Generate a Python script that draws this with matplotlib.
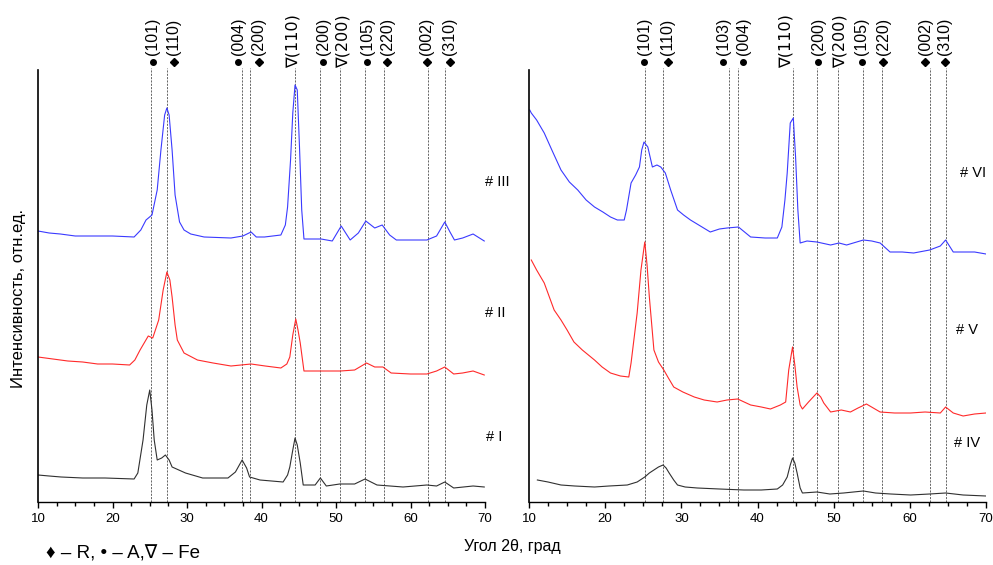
import matplotlib
matplotlib.use("Agg")
import matplotlib.pyplot as plt
from matplotlib.ticker import MultipleLocator

plt.rcParams['font.family'] = ['Liberation Sans', 'DejaVu Sans']

# ---- data (intensity in arbitrary units) ----
ang_III = [10.0, 11.5, 13, 15, 18, 20, 22.9, 23.8, 24.5, 25.3, 26.0, 26.5, 27.0, 27.3, 27.6, 28.0, 28.4,
           29.0, 29.6, 30.5, 32.3, 35.9, 37.5, 38.6, 39.3, 40.4, 42.6, 43.2, 43.5, 43.9, 44.2, 44.5, 44.8,
           45.1, 45.4, 45.7, 48.0, 49.5, 50.7, 51.9, 53.0, 54.0, 55.2, 56.2, 57.2, 58.1, 62.2, 63.5, 64.6,
           65.3, 65.9, 67.0, 68.4, 69.9]
int_III = [271, 269, 268, 266, 266, 266, 265, 272, 282, 287, 312, 352, 387, 394, 387, 352, 307,
           280, 272, 268, 265, 264, 266, 270, 265, 265, 267, 277, 295, 342, 389, 417, 412,
           355, 292, 263, 263, 261, 276, 262, 269, 281, 274, 277, 267, 262, 262, 266, 280,
           270, 262, 264, 268, 261]

ang_II = [10.0, 12, 14, 16, 18, 20, 22.3, 23.0, 23.7, 24.8, 25.4, 26.2, 26.8, 27.3, 27.7, 28.0, 28.4,
          28.7, 29.6, 31.4, 33.5, 35.9, 38.6, 40.5, 42.6, 43.4, 43.8, 44.2, 44.6, 44.9, 45.2, 45.7, 48,
          50.6, 52.5, 54.1, 55.2, 56.3, 57.4, 60, 62.2, 63.5, 64.6, 65.8, 67, 68.4, 69.9]
int_II = [145, 143, 141, 140, 138, 138, 137, 142, 152, 166, 164, 182, 212, 230, 222, 205, 177,
          162, 149, 142, 139, 136, 138, 136, 134, 138, 145, 167, 183, 172, 159, 131, 131,
          131, 132, 139, 135, 135, 129, 128, 128, 131, 135, 128, 129, 131, 127]

ang_I = [10.0, 11.5, 13.1, 16, 19, 22.9, 23.4, 24.1, 24.6, 25.0, 25.3, 25.6, 26.0, 26.6, 27.1, 27.6,
         28.0, 29.8, 32.1, 35.5, 36.5, 37.4, 38.0, 38.4, 39.8, 42.9, 43.5, 43.8, 44.2, 44.5, 44.8, 45.2,
         45.6, 47.2, 47.9, 48.7, 50.5, 52.5, 53.9, 55.5, 59.0, 62.2, 63.5, 64.6, 65.8, 68.4, 69.9]
int_I = [27, 26, 25, 24, 24, 23, 29, 62, 97, 112, 92, 62, 42, 44, 47, 42,
         35, 29, 24, 24, 30, 42, 34, 25, 22, 20, 27, 35, 52, 64, 57, 39,
         17, 17, 24, 16, 18, 18, 23, 17, 15, 17, 16, 20, 14, 16, 15]

ang_VI = [10.1, 10.3, 11, 12.0, 13, 14.2, 15.3, 16.4, 17.5, 18.6, 19.7, 20.7, 21.6, 22.5, 22.8, 23.4,
          24.0, 24.5, 24.8, 25.1, 25.6, 26.2, 26.8, 27.3, 27.9, 28.6, 29.5, 30.3, 31.2, 32.5, 33.8, 35.0,
          36.0, 37.5, 38.3, 39.1, 41, 42.6, 43.2, 43.6, 43.9, 44.3, 44.7, 45.0, 45.3, 45.6, 46.5, 47.8,
          49.6, 50.7, 51.7, 53.9, 55.0, 56.1, 57.4, 59, 60.5, 62.6, 64.0, 64.7, 65.2, 65.7, 67, 68.5, 70.0]
int_VI = [392, 389, 382, 369, 352, 332, 320, 312, 302, 295, 290, 285, 282, 282, 292, 319,
          327, 335, 352, 360, 355, 335, 337, 335, 329, 312, 292, 287, 282, 276, 270, 273,
          274, 275, 270, 265, 264, 264, 275, 302, 329, 379, 384, 345, 292, 259, 261, 260,
          257, 259, 257, 262, 261, 259, 250, 250, 249, 252, 256, 262, 256, 250, 250, 250, 248]

ang_V = [10.3, 11, 12.0, 13.3, 14.2, 15.0, 15.9, 17.0, 18.6, 19.6, 20.7, 22, 23.1, 23.4, 24.2, 24.7,
         25.2, 25.5, 25.8, 26.4, 27.0, 27.7, 28.3, 29.0, 30.2, 31.7, 33, 34.7, 36, 37.4, 39.1, 40.5,
         41.7, 43.0, 43.7, 44.1, 44.6, 44.9, 45.2, 45.6, 45.9, 46.7, 47.8, 48.3, 48.7, 49.6, 51, 52.2,
         53.2, 54.3, 55.2, 56.1, 58, 60.1, 62, 64.0, 64.7, 65.7, 67.0, 68.5, 70.0]
int_V = [242, 232, 219, 192, 182, 172, 160, 152, 142, 135, 129, 126, 125, 139, 189, 232,
         260, 237, 205, 152, 140, 132, 124, 115, 110, 105, 102, 100, 102, 103, 97, 95,
         93, 97, 100, 132, 155, 137, 115, 97, 93, 100, 109, 105, 99, 90, 92, 90,
         94, 98, 94, 90, 89, 89, 90, 89, 95, 89, 86, 88, 89]

ang_IV = [11.1, 12.5, 14.2, 16, 18.6, 20.5, 22.9, 24.2, 25.2, 25.8, 26.4, 27.0, 27.6, 28.0, 28.4, 29.0,
          29.5, 30.5, 32.1, 35, 38.2, 40.5, 42.6, 43.3, 43.9, 44.3, 44.6, 44.9, 45.2, 45.6, 45.9, 47.8,
          49.5, 51.3, 53.9, 55.5, 57.5, 60.1, 62.6, 64.7, 67, 70.0]
int_IV = [22, 20, 17, 16, 15, 16, 17, 20, 25, 29, 32, 35, 37, 34, 29, 22,
          17, 15, 14, 13, 12, 12, 13, 17, 25, 37, 44, 39, 29, 14, 9, 10,
          8, 9, 11, 9, 8, 7, 8, 9, 7, 6]

# reflections: line position, label position, hkl, phase (R - rutile, A - anatase, Fe)
refl_left_pos = [25.2, 27.3, 37.4, 38.5, 44.5, 47.9, 50.6, 53.9, 56.5, 62.3, 64.6]
refl_left_lab = [25.4, 28.2, 36.9, 39.6, 44.3, 48.3, 51.0, 54.2, 56.9, 62.2, 65.3]
refl_left_hkl = ['(101)', '(110)', '(004)', '(200)', '(110)', '(200)', '(200)', '(105)', '(220)', '(002)', '(310)']
refl_left_phase = ['A', 'R', 'A', 'R', 'Fe', 'A', 'Fe', 'A', 'R', 'R', 'R']

refl_right_pos = [25.2, 27.6, 36.3, 37.5, 44.6, 47.8, 50.6, 53.9, 56.4, 62.7, 64.7]
refl_right_lab = [25.1, 28.2, 35.5, 38.1, 43.8, 48.0, 50.8, 53.7, 56.5, 62.0, 64.6]
refl_right_hkl = ['(101)', '(110)', '(103)', '(004)', '(110)', '(200)', '(200)', '(105)', '(220)', '(002)', '(310)']
refl_right_phase = ['A', 'R', 'A', 'A', 'Fe', 'A', 'Fe', 'A', 'R', 'R', 'R']

W, H = 993, 565
fig = plt.figure(figsize=(W / 100, H / 100), dpi=100)

ax1 = fig.add_axes([38 / W, 1 - 502 / H, (485 - 38) / W, (502 - 70) / H])
ax2 = fig.add_axes([529 / W, 1 - 502 / H, (986 - 529) / W, (502 - 70) / H])

def setup(ax, curves, pos, lab, hkl, phase):
    for a, i, c in curves:
        ax.plot(a, i, color=c, lw=0.8)
    for p, q, h, ph in zip(pos, lab, hkl, phase):
        ax.plot([p, p], [0, 434], color='0.3', lw=0.6, ls=(0, (2.5, 1.5)), clip_on=False, zorder=1)
        if ph == 'Fe':
            ax.text(q, 434, '\u2207' + h, rotation=90, ha='center', va='bottom', fontsize=11.5,
                    family=['DejaVu Sans'], clip_on=False)
        else:
            if ph == 'A':
                ax.plot(q, 440, 'o', color='k', ms=4, clip_on=False)
            else:
                ax.plot(q, 440, 'D', color='k', ms=4.5, clip_on=False)
            ax.text(q, 447, h, rotation=90, ha='center', va='bottom', fontsize=11.5, clip_on=False)
    ax.set_xlim(10, 70)
    ax.set_ylim(0, 432)
    ax.set_yticks([])
    ax.xaxis.set_major_locator(MultipleLocator(10))
    ax.xaxis.set_minor_locator(MultipleLocator(2.5))
    ax.tick_params(axis='x', which='major', direction='out', length=4, width=1, labelsize=9.5, pad=4)
    ax.tick_params(axis='x', which='minor', direction='out', length=3, width=1)
    for s in ['top', 'right']:
        ax.spines[s].set_visible(False)
    ax.spines['left'].set_linewidth(1.2)
    ax.spines['bottom'].set_linewidth(1.0)

setup(ax1, [(ang_III, int_III, '#3a3aff'), (ang_II, int_II, '#ff2a2a'), (ang_I, int_I, '#303030')],
      refl_left_pos, refl_left_lab, refl_left_hkl, refl_left_phase)
setup(ax2, [(ang_VI, int_VI, '#3a3aff'), (ang_V, int_V, '#ff2a2a'), (ang_IV, int_IV, '#303030')],
      refl_right_pos, refl_right_lab, refl_right_hkl, refl_right_phase)

# sample labels
for txt, x, y in [('# III', 485, 182), ('# II', 485, 313), ('# I', 486, 437),
                  ('# VI', 960, 173), ('# V', 956, 330), ('# IV', 954, 443)]:
    fig.text(x / W, 1 - y / H, txt, fontsize=10.5, va='center', ha='left')

fig.text(19 / W, 1 - 298 / H, 'Интенсивность, отн.ед.', rotation=90, fontsize=12,
         ha='center', va='center')
fig.text(512 / W, 1 - 547 / H, 'Угол 2\u03b8, град', fontsize=11.5, ha='center', va='center')
fig.text(46 / W, 1 - 554 / H, '\u2666 \u2013 R, \u2022 \u2013 A,\u2207 \u2013 Fe', fontsize=13.5,
         ha='left', va='center', family=['Liberation Sans', 'DejaVu Sans'])

fig.savefig('out.png', dpi=100)
